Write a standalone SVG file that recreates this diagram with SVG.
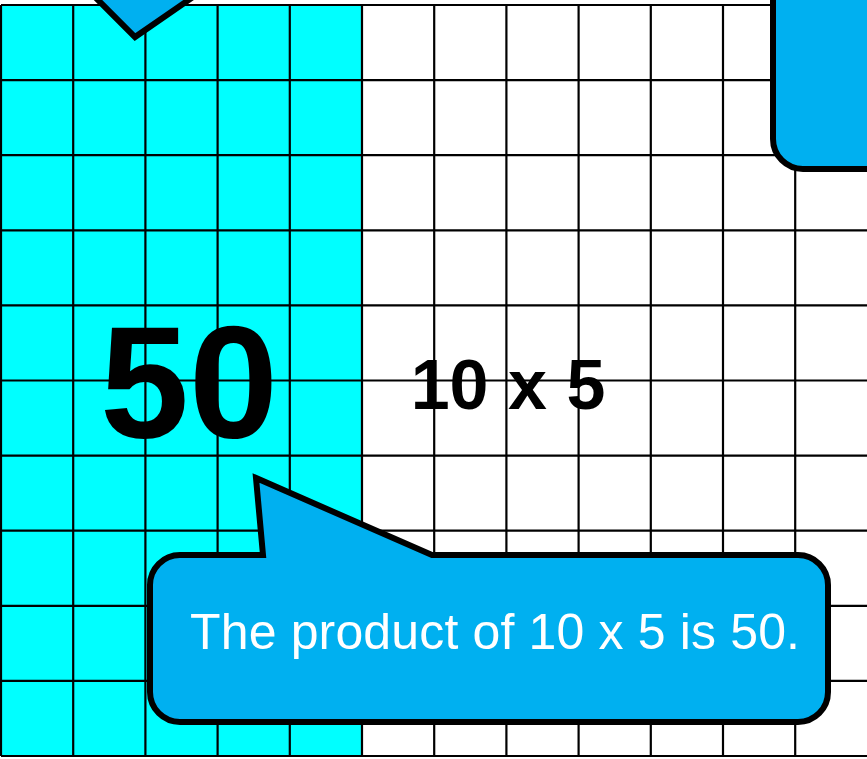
<svg xmlns="http://www.w3.org/2000/svg" width="867" height="759" viewBox="0 0 867 759">
<style>
.grid line{stroke:#000;stroke-width:2.2}
.bubble{fill:#00B0F0;stroke:#000;stroke-width:6;stroke-linejoin:miter}
.big{font-family:"Liberation Sans",Arial,sans-serif;font-weight:bold;fill:#000}
.msg{font-family:"Liberation Sans",Arial,sans-serif;fill:#fff;font-size:50px}
</style>
<rect width="867" height="759" fill="#fff"/>
<g id="grid" class="grid">
<rect x="1" y="5" width="361" height="751" fill="#00FFFF"/>
<line x1="1" y1="5" x2="867" y2="5"/>
<line x1="1" y1="80.1" x2="867" y2="80.1"/>
<line x1="1" y1="155.2" x2="867" y2="155.2"/>
<line x1="1" y1="230.3" x2="867" y2="230.3"/>
<line x1="1" y1="305.4" x2="867" y2="305.4"/>
<line x1="1" y1="380.5" x2="867" y2="380.5"/>
<line x1="1" y1="455.6" x2="867" y2="455.6"/>
<line x1="1" y1="530.7" x2="867" y2="530.7"/>
<line x1="1" y1="605.8" x2="867" y2="605.8"/>
<line x1="1" y1="680.9" x2="867" y2="680.9"/>
<line x1="1" y1="756" x2="867" y2="756"/>
<line x1="1" y1="5" x2="1" y2="756"/>
<line x1="73.2" y1="5" x2="73.2" y2="756"/>
<line x1="145.4" y1="5" x2="145.4" y2="756"/>
<line x1="217.6" y1="5" x2="217.6" y2="756"/>
<line x1="289.8" y1="5" x2="289.8" y2="756"/>
<line x1="362" y1="5" x2="362" y2="756"/>
<line x1="434.2" y1="5" x2="434.2" y2="756"/>
<line x1="506.4" y1="5" x2="506.4" y2="756"/>
<line x1="578.6" y1="5" x2="578.6" y2="756"/>
<line x1="650.8" y1="5" x2="650.8" y2="756"/>
<line x1="723" y1="5" x2="723" y2="756"/>
<line x1="795.2" y1="5" x2="795.2" y2="756"/>
</g>
<g id="connectors"></g>
<g id="bubble-top-left">
<path class="bubble" d="M86,-12 L135,37 L206,-12 Z"/>
</g>
<g id="bubble-top-right">
<rect class="bubble" x="773" y="-60" width="200" height="229" rx="30" ry="30"/>
</g>
<g id="label-50">
<text class="big" x="189" y="437" font-size="160" text-anchor="middle">50</text>
</g>
<g id="label-10x5">
<text class="big" x="508" y="409" font-size="70" text-anchor="middle">10 x 5</text>
</g>
<g id="bubble-bottom">
<path class="bubble" d="M180,555 L263,555 L256,478 L432,555 L798,555 A30,30 0 0 1 828,585 L828,692 A30,30 0 0 1 798,722 L180,722 A30,30 0 0 1 150,692 L150,585 A30,30 0 0 1 180,555 Z"/>
<text class="msg" x="190" y="649" textLength="610">The product of 10 x 5 is 50.</text>
</g>
</svg>
